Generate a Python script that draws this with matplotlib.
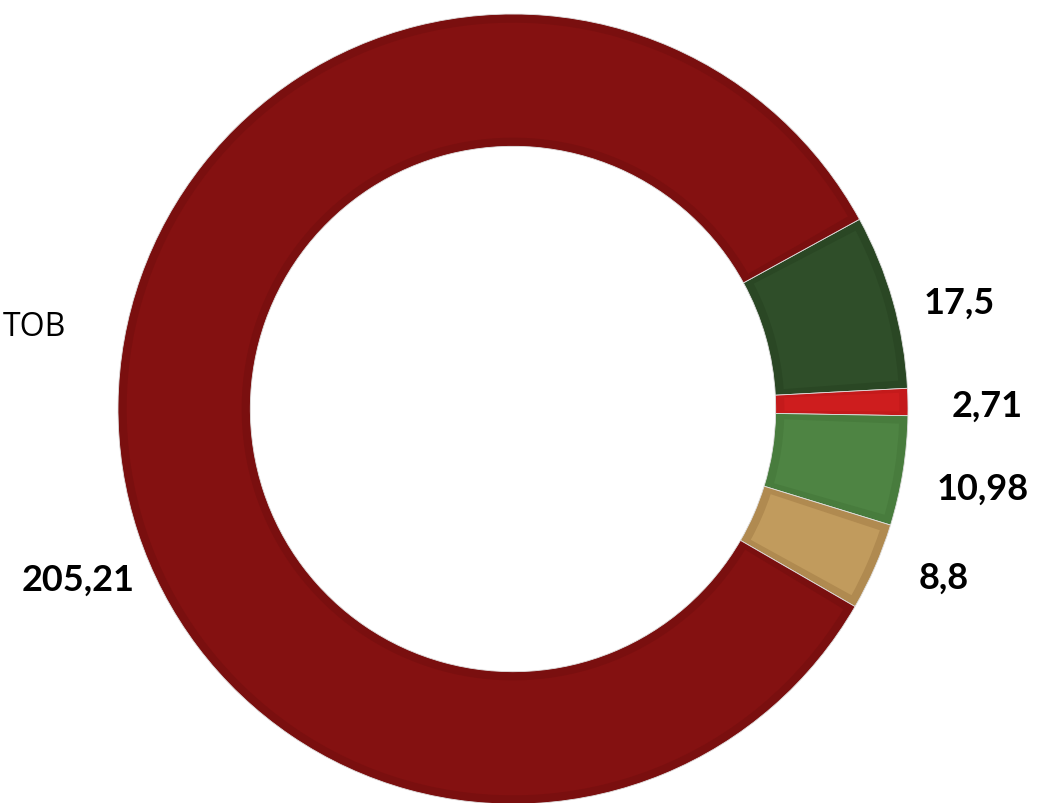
import numpy as np
import matplotlib.pyplot as plt
from matplotlib.patches import Wedge

# Donut values (clockwise from the upper-right boundary)
values = [17.5, 2.71, 10.98, 8.8, 205.21]
labels = ["17,5", "2,71", "10,98", "8,8", "205,21"]
face_colors = ["#2F4E29", "#CE1D1E", "#4E8443", "#C19B5D", "#841111"]
edge_colors = ["#2A4724", "#C41A1B", "#487C3D", "#B08A50", "#7A0F0F"]

# label placement (data coords of the unit donut)
label_xy = [(1.13, 0.27), (1.20, 0.01), (1.19, -0.20), (1.09, -0.425), (-1.10, -0.43)]

fig = plt.figure(figsize=(10.38, 8.04), dpi=100)
ax = fig.add_axes([118 / 1038, -1 / 804, 790 / 1038, 790 / 804])

width = 0.335
wedges, _ = ax.pie(values, startangle=28.7, counterclock=False, colors=edge_colors,
                   radius=1.0, wedgeprops=dict(width=width, edgecolor="#E0E0E0", linewidth=0.6))

# inner lighter fill, inset from the edge to give the bevelled border look
inset = 0.022
for w, fc in zip(wedges, face_colors):
    span = w.theta2 - w.theta1
    d = min(1.2, span * 0.15)
    ax.add_patch(Wedge((0, 0), 1.0 - inset, w.theta1 + d, w.theta2 - d,
                       width=width - 2 * inset, facecolor=fc, edgecolor="none"))

for txt, (x, y) in zip(labels, label_xy):
    ax.text(x, y, txt, ha="center", va="center", fontsize=26, fontweight="bold",
            family="Lato", color="black")

# category name on the left (cut in the source)
fig.text(66 / 1038, 1 - 328 / 804, "ТОВ", ha="right", va="center", fontsize=23,
         family="Open Sans", color="black")

ax.set_xlim(-1, 1)
ax.set_ylim(-1, 1)
ax.set_aspect("equal")
ax.axis("off")

fig.savefig("out.png", dpi=100)
